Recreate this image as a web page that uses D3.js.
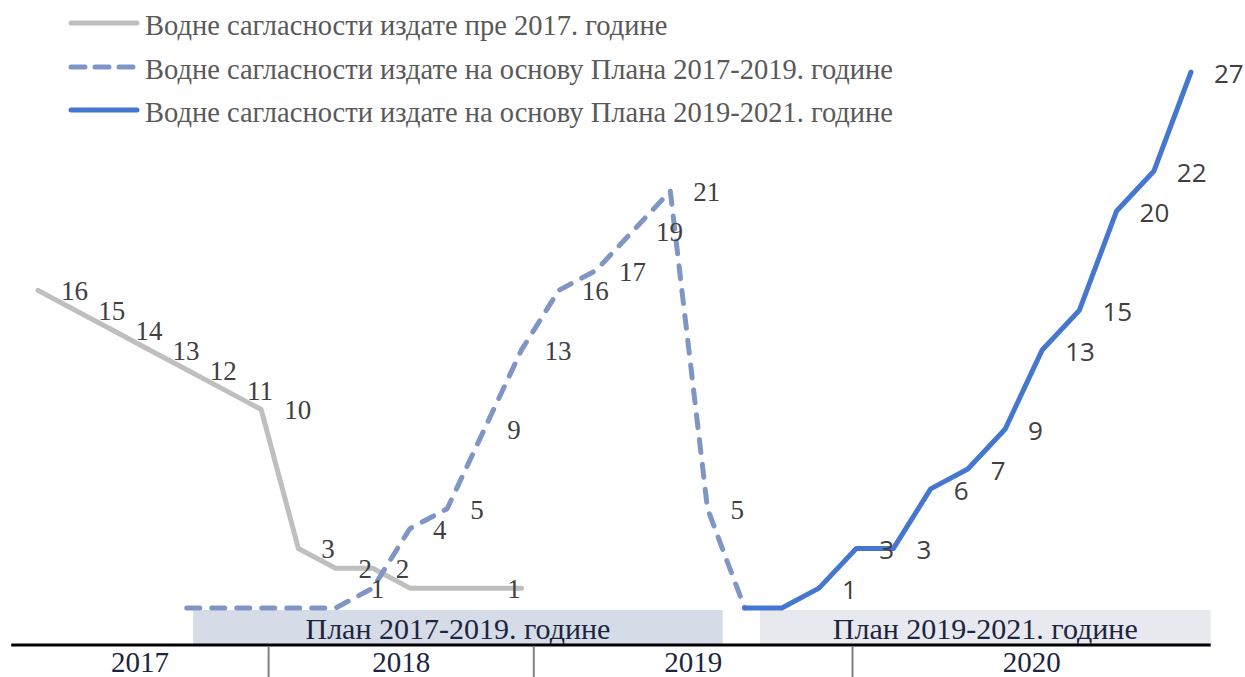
<!DOCTYPE html>
<html><head><meta charset="utf-8">
<script src="https://cdn.jsdelivr.net/npm/d3@7"></script>
<style>
html,body{margin:0;padding:0;background:#fff;}
svg{display:block;}
</style></head>
<body>
<svg id="chart" width="1245" height="677"></svg>
<script>
// ---- data ----
const periodCount = 32;                     // periodic observation points
const grayStart = 0;
const grayValues = [16,15,14,13,12,11,10,3,2,2,1,1,1,1];
const grayHiddenLabels = [10,11,13];        // indices within series without label
const dashedStart = 4;
const dashedValues = [0,0,0,0,0,1,4,5,9,13,16,17,19,21,5,0];
const solidStart = 19;
const solidValues = [0,0,1,3,3,6,7,9,13,15,20,22,27];
const years = ["2017","2018","2019","2020"];
const yearBounds = [-0.72, 6.2, 13.33, 21.9, 31.53];   // in period units
const plans = ["План 2017-2019. године","План 2019-2021. године"];
const planBounds = [[4.17, 18.41],[19.41, 31.53]];      // in period units
const legendLabels = [
  "Водне сагласности издате пре 2017. године",
  "Водне сагласности издате на основу Плана 2017-2019. године",
  "Водне сагласности издате на основу Плана 2019-2021. године"
];

// ---- layout ----
const svg = d3.select("#chart");
const x = d3.scaleLinear().domain([0, periodCount-1]).range([38, 1191]);
const y = d3.scaleLinear().domain([0, 27]).range([608, 72]);
const axisY = 645;

const serif = "'Liberation Serif','Times New Roman',serif";
const sans = "'Open Sans','Liberation Sans',sans-serif";

const series = [
  {values: grayValues, start: grayStart, color: "#bfbfbf", dash: null, font: serif, size: 27, hidden: grayHiddenLabels, nudge:{}},
  {values: dashedValues, start: dashedStart, color: "#7f96c5", dash: "13,12", font: serif, size: 27, hidden: [], nudge:{5:-25}},
  {values: solidValues, start: solidStart, color: "#4677d0", dash: null, font: sans, size: 26, hidden: [], nudge:{}}
];

// plan boxes
const planFill = ["#d6dce7", "#e8e9ef"];
plans.forEach((p,i)=>{
  const [a,b] = planBounds[i];
  svg.append("rect").attr("x", x(a)).attr("y", 610).attr("width", x(b)-x(a)).attr("height", axisY-610)
    .attr("fill", planFill[i]);
  svg.append("text").attr("x", (x(a)+x(b))/2).attr("y", 628).attr("text-anchor","middle")
    .attr("dominant-baseline","central").attr("font-family", serif).attr("font-size", 30)
    .attr("fill", "#1c2540").text(p);
});

// lines
const line = d3.line().x(d=>x(d.i)).y(d=>y(d.v)).curve(d3.curveLinear);
series.forEach(s=>{
  const pts = s.values.map((v,k)=>({i: s.start+k, v, k}));
  s.pts = pts;
  svg.append("path").datum(pts).attr("d", line).attr("fill","none")
    .attr("stroke", s.color).attr("stroke-width", 5)
    .attr("stroke-linejoin","round").attr("stroke-linecap","round")
    .attr("stroke-dasharray", s.dash);
});

// labels
series.forEach(s=>{
  svg.append("g").selectAll("text")
    .data(s.pts.filter(d=>d.v>0 && !s.hidden.includes(d.k)))
    .join("text")
    .attr("x", d=>x(d.i)+23+(s.nudge[d.k]||0))
    .attr("y", d=>y(d.v)+1)
    .attr("dominant-baseline","central")
    .attr("font-family", s.font).attr("font-size", s.size)
    .attr("fill", "#404040")
    .text(d=>d.v);
});

// axis
svg.append("line").attr("x1", x(yearBounds[0])).attr("x2", x(yearBounds[yearBounds.length-1]))
  .attr("y1", axisY).attr("y2", axisY).attr("stroke","#000").attr("stroke-width",3);
yearBounds.slice(1,-1).forEach(b=>{
  svg.append("line").attr("x1", x(b)).attr("x2", x(b)).attr("y1", axisY+1).attr("y2", 677)
    .attr("stroke","#808080").attr("stroke-width",2);
});
years.forEach((yr,i)=>{
  svg.append("text").attr("x", (x(yearBounds[i])+x(yearBounds[i+1]))/2).attr("y", 662)
    .attr("text-anchor","middle").attr("dominant-baseline","central")
    .attr("font-family", serif).attr("font-size", 29).attr("fill","#1c2540").text(yr);
});

// legend
const legY = [23, 67, 110];
legendLabels.forEach((t,i)=>{
  const s = series[i];
  svg.append("line").attr("x1", 71).attr("x2", 137).attr("y1", legY[i]).attr("y2", legY[i])
    .attr("stroke", s.color).attr("stroke-width", 5).attr("stroke-linecap","round")
    .attr("stroke-dasharray", s.dash ? "14,10" : null);
  svg.append("text").attr("x", 145).attr("y", legY[i]+2).attr("dominant-baseline","central")
    .attr("font-family", serif).attr("font-size", 28.5).attr("fill","#595959").text(t);
});
</script>
</body></html>
